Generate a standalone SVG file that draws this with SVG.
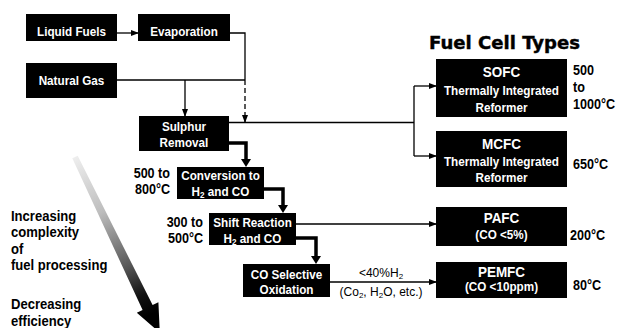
<svg xmlns="http://www.w3.org/2000/svg" width="617" height="328" viewBox="0 0 617 328">
<style>
.bx{fill:#000}
.w{font-family:"Liberation Sans",Arial,sans-serif;font-weight:bold;fill:#fff;text-anchor:middle;font-size:13px;transform-box:fill-box;transform-origin:50% 50%;transform:scaleX(0.9)}
.h{font-size:15px}
.k{font-family:"Liberation Sans",Arial,sans-serif;font-weight:bold;fill:#000;font-size:14px;transform-box:fill-box;transform-origin:0 50%;transform:scaleX(0.9)}
.e{text-anchor:end;transform-origin:100% 50%}
.l{font-size:14.5px}
.r{font-family:"Liberation Sans",Arial,sans-serif;fill:#000;font-size:12px;text-anchor:middle}
.ln{fill:none;stroke:#000;stroke-width:1.3}
.th{fill:none;stroke:#000;stroke-width:3.5}
</style>
<defs>
<marker id="a" viewBox="0 0 8 6" refX="7" refY="3" markerWidth="8" markerHeight="6" markerUnits="userSpaceOnUse" orient="auto"><path d="M0,0L8,3L0,6z"/></marker>
<marker id="b" viewBox="0 0 8 10" refX="1" refY="5" markerWidth="8" markerHeight="10" markerUnits="userSpaceOnUse" orient="auto"><path d="M0,0L8,5L0,10z"/></marker>
<linearGradient id="g" gradientUnits="userSpaceOnUse" x1="75" y1="157" x2="150" y2="315">
<stop offset="0" stop-color="#eeeeee"/><stop offset="0.35" stop-color="#bdbdbd"/><stop offset="0.7" stop-color="#555"/><stop offset="0.88" stop-color="#111"/><stop offset="1" stop-color="#000"/>
</linearGradient>
</defs>
<rect width="617" height="328" fill="#fff"/>

<g id="connectors">
<path class="ln" d="M117,33H138" marker-end="url(#a)"/>
<path class="ln" d="M230,33H245V80"/>
<path class="ln" d="M117,80H245"/>
<path class="ln" d="M245,80V122" stroke-dasharray="5,3" marker-end="url(#a)"/>
<path class="ln" d="M185,80V116" marker-end="url(#a)"/>
<path class="ln" d="M229,122.5H414"/>
<path class="ln" d="M414,86V156"/>
<path class="ln" d="M414,86H436" marker-end="url(#a)"/>
<path class="ln" d="M414,156H436" marker-end="url(#a)"/>
<path class="th" d="M229,143H246V160" marker-end="url(#b)"/>
<path class="th" d="M264,189H283V206" marker-end="url(#b)"/>
<path class="th" d="M296,238H316V257" marker-end="url(#b)"/>
<path class="ln" d="M296,224H436" marker-end="url(#a)"/>
<path class="ln" d="M330,282H436" marker-end="url(#a)"/>
<text class="r" x="381" y="277">&lt;40%H<tspan font-size="8" dy="2">2</tspan></text>
<text class="r" x="381" y="296">(Co<tspan font-size="8" dy="2">2</tspan><tspan dy="-2">, H</tspan><tspan font-size="8" dy="2">2</tspan><tspan dy="-2">O, etc.)</tspan></text>
</g>

<g id="liquid-fuels"><rect class="bx" x="26" y="14" width="91" height="27"/><text class="w" x="71.5" y="36">Liquid Fuels</text></g>
<g id="evaporation"><rect class="bx" x="138" y="14" width="92" height="27"/><text class="w" x="184" y="36">Evaporation</text></g>
<g id="natural-gas"><rect class="bx" x="26" y="63" width="91" height="35"/><text class="w" x="71.5" y="85">Natural Gas</text></g>
<g id="sulphur-removal"><rect class="bx" x="139" y="116" width="90" height="35"/><text class="w" x="184" y="131">Sulphur</text><text class="w" x="184" y="147">Removal</text></g>
<g id="conversion"><rect class="bx" x="177" y="167" width="87" height="32"/><text class="w" x="220.5" y="180">Conversion to</text><text class="w" x="220.5" y="196">H<tspan font-size="9" dy="2">2</tspan><tspan dy="-2"> and CO</tspan></text>
<text class="k e" x="170" y="178">500 to</text><text class="k e" x="170" y="194">800°C</text></g>
<g id="shift-reaction"><rect class="bx" x="209" y="213" width="87" height="32"/><text class="w" x="252.5" y="227">Shift Reaction</text><text class="w" x="252.5" y="243">H<tspan font-size="9" dy="2">2</tspan><tspan dy="-2"> and CO</tspan></text>
<text class="k e" x="203" y="227">300 to</text><text class="k e" x="203" y="243">500°C</text></g>
<g id="co-selective-oxidation"><rect class="bx" x="243" y="264" width="87" height="33"/><text class="w" x="286.5" y="279">CO Selective</text><text class="w" x="286.5" y="294">Oxidation</text></g>

<g id="title"><text x="429" y="49" font-family="'DejaVu Sans',sans-serif" font-weight="bold" font-size="17" textLength="151" lengthAdjust="spacingAndGlyphs" fill="#000" stroke="#000" stroke-width="0.4">Fuel Cell Types</text></g>
<g id="sofc"><rect class="bx" x="436" y="59" width="131" height="58"/><text class="w h" x="501.5" y="77">SOFC</text><text class="w" x="501.5" y="95">Thermally Integrated</text><text class="w" x="501.5" y="112">Reformer</text>
<text class="k" x="573" y="75">500</text><text class="k" x="573" y="92">to</text><text class="k" x="573" y="109">1000°C</text></g>
<g id="mcfc"><rect class="bx" x="436" y="131" width="131" height="56"/><text class="w h" x="501.5" y="149">MCFC</text><text class="w" x="501.5" y="166">Thermally Integrated</text><text class="w" x="501.5" y="182">Reformer</text>
<text class="k" x="573" y="169">650°C</text></g>
<g id="pafc"><rect class="bx" x="436" y="207" width="131" height="39"/><text class="w h" x="501.5" y="223">PAFC</text><text class="w" x="501.5" y="239">(CO &lt;5%)</text>
<text class="k" x="570" y="240">200°C</text></g>
<g id="pemfc"><rect class="bx" x="436" y="262" width="131" height="36"/><text class="w h" x="501.5" y="277">PEMFC</text><text class="w" x="501.5" y="291">(CO &lt;10ppm)</text>
<text class="k" x="573" y="290">80°C</text></g>

<g id="trend">
<polygon fill="url(#g)" points="77.7,155.7 152.6,305.1 158.4,302.3 159.8,332.7 136.8,312.7 142.6,309.9 72.3,158.3"/>
<text class="k l" x="11" y="221">Increasing</text>
<text class="k l" x="11" y="237.5">complexity</text>
<text class="k l" x="11" y="254">of</text>
<text class="k l" x="11" y="270.5">fuel processing</text>
<text class="k l" x="11" y="309">Decreasing</text>
<text class="k l" x="11" y="326">efficiency</text>
</g>
</svg>
